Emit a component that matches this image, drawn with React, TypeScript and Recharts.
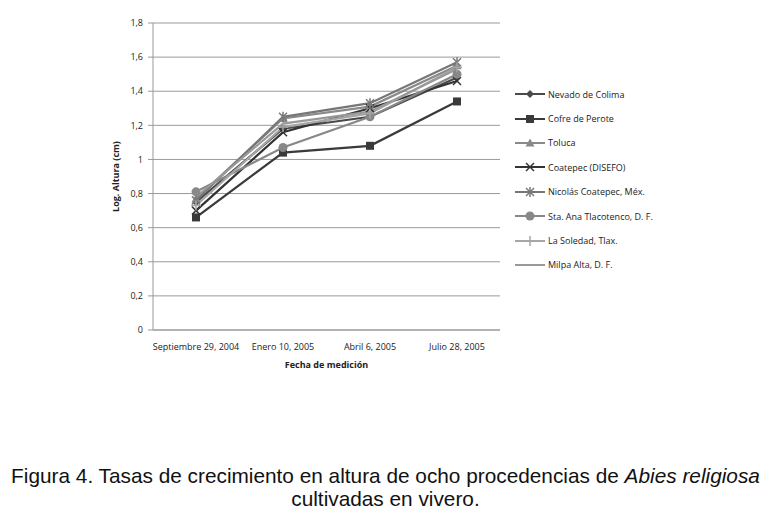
import React from 'react';
import { CartesianGrid, Line, LineChart, XAxis, YAxis } from 'recharts';

const fechas = ['Septiembre 29, 2004', 'Enero 10, 2005', 'Abril 6, 2005', 'Julio 28, 2005'];
const yTicks = [0, 0.2, 0.4, 0.6, 0.8, 1, 1.2, 1.4, 1.6, 1.8];

const nevadoColima = [0.75, 1.18, 1.25, 1.48];
const cofrePerote = [0.66, 1.04, 1.08, 1.34];
const toluca = [0.77, 1.24, 1.31, 1.55];
const coatepecDisefo = [0.7, 1.16, 1.3, 1.46];
const nicolasCoatepec = [0.76, 1.25, 1.33, 1.57];
const staAna = [0.81, 1.07, 1.25, 1.5];
const laSoledad = [0.73, 1.19, 1.27, 1.54];
const milpaAlta = [0.78, 1.21, 1.28, 1.53];

const series = [
  { key: 'Nevado de Colima', values: nevadoColima, color: '#4a4a4a', shape: 'diamond' },
  { key: 'Cofre de Perote', values: cofrePerote, color: '#3a3a3a', shape: 'square' },
  { key: 'Toluca', values: toluca, color: '#8a8a8a', shape: 'triangle' },
  { key: 'Coatepec (DISEFO)', values: coatepecDisefo, color: '#333333', shape: 'x' },
  { key: 'Nicolás Coatepec, Méx.', values: nicolasCoatepec, color: '#777777', shape: 'star' },
  { key: 'Sta. Ana Tlacotenco, D. F.', values: staAna, color: '#888888', shape: 'circle' },
  { key: 'La Soledad, Tlax.', values: laSoledad, color: '#a6a6a6', shape: 'plus' },
  { key: 'Milpa Alta, D. F.', values: milpaAlta, color: '#999999', shape: 'none' },
];

const data = fechas.map((f, i) => {
  const row: any = { fecha: f };
  series.forEach((s) => {
    row[s.key] = s.values[i];
  });
  return row;
});

const tickFont = '"Open Sans", sans-serif';

const Marker = ({ cx, cy, shape, color }: any) => {
  if (cx == null || cy == null) return null;
  switch (shape) {
    case 'diamond':
      return <polygon points={`${cx},${cy - 4} ${cx + 4},${cy} ${cx},${cy + 4} ${cx - 4},${cy}`} fill={color} />;
    case 'square':
      return <rect x={cx - 4} y={cy - 4} width={8} height={8} fill={color} />;
    case 'triangle':
      return <polygon points={`${cx},${cy - 4.5} ${cx + 4.5},${cy + 3.5} ${cx - 4.5},${cy + 3.5}`} fill={color} />;
    case 'x':
      return (
        <g stroke={color} strokeWidth={1.5}>
          <line x1={cx - 4} y1={cy - 4} x2={cx + 4} y2={cy + 4} />
          <line x1={cx - 4} y1={cy + 4} x2={cx + 4} y2={cy - 4} />
        </g>
      );
    case 'star':
      return (
        <g stroke={color} strokeWidth={1.5}>
          <line x1={cx - 4} y1={cy - 4} x2={cx + 4} y2={cy + 4} />
          <line x1={cx - 4} y1={cy + 4} x2={cx + 4} y2={cy - 4} />
          <line x1={cx} y1={cy - 5} x2={cx} y2={cy + 5} />
        </g>
      );
    case 'circle':
      return <circle cx={cx} cy={cy} r={4.5} fill={color} />;
    case 'plus':
      return (
        <g stroke={color} strokeWidth={1.5}>
          <line x1={cx - 5} y1={cy} x2={cx + 5} y2={cy} />
          <line x1={cx} y1={cy - 5} x2={cx} y2={cy + 5} />
        </g>
      );
    default:
      return null;
  }
};

const SideLegend = () => (
  <div style={{ position: 'absolute', left: 506, top: 74, fontFamily: tickFont, fontSize: 9, color: '#222' }}>
    {series.map((s) => (
      <div key={s.key} style={{ display: 'flex', alignItems: 'center', height: 24.4 }}>
        <svg width={32} height={12} style={{ marginRight: 2 }}>
          <line x1={1} y1={6} x2={31} y2={6} stroke={s.color} strokeWidth={2} />
          <Marker cx={16} cy={6} shape={s.shape} color={s.color} />
        </svg>
        <span>{s.key}</span>
      </div>
    ))}
  </div>
);

export default function App() {
  return (
    <div style={{ position: 'relative', width: 763, height: 511 }}>
      <LineChart
        width={760}
        height={380}
        data={data}
        margin={{ top: 15, right: 268, left: 0, bottom: 8 }}
      >
        <CartesianGrid vertical={false} stroke="#9a9a9a" strokeWidth={1} />
        <XAxis
          dataKey="fecha"
          stroke="#999"
          tickLine={false}
          interval={0}
          height={50}
          padding={{ left: 43, right: 43 }}
          tick={{ fontFamily: tickFont, fontSize: 9, fill: '#222' }}
          tickMargin={8}
          label={{
            value: 'Fecha de medición',
            position: 'insideBottom',
            offset: 12,
            style: { fontFamily: tickFont, fontSize: 9, fontWeight: 'bold', fill: '#222' },
          }}
        />
        <YAxis
          width={145}
          domain={[0, 1.8]}
          ticks={yTicks}
          stroke="#999"
          tickSize={5}
          tickMargin={5}
          tickFormatter={(v: number) => String(v).replace('.', ',')}
          tick={{ fontFamily: tickFont, fontSize: 9, fill: '#222' }}
          label={{
            value: 'Log. Altura (cm)',
            angle: -90,
            position: 'insideRight',
            offset: 37,
            style: { fontFamily: tickFont, fontSize: 9, fontWeight: 'bold', fill: '#222', textAnchor: 'middle' },
          }}
        />
        {series.map((s) => (
          <Line
            key={s.key}
            type="linear"
            dataKey={s.key}
            stroke={s.color}
            strokeWidth={2.2}
            isAnimationActive={false}
            dot={(p: any) => <Marker key={`${s.key}-${p.index}`} cx={p.cx} cy={p.cy} shape={s.shape} color={s.color} />}
            activeDot={false}
          />
        ))}
      </LineChart>
      <SideLegend />
      <div
        style={{
          position: 'absolute',
          top: 456,
          left: 0,
          width: 755,
          textAlign: 'center',
          fontFamily: '"Liberation Sans", Arial, sans-serif',
          fontSize: 20.8,
          lineHeight: '23px',
          color: '#111',
        }}
      >
        Figura 4. Tasas de crecimiento en altura de ocho procedencias de <i>Abies religiosa</i>
        <br />
        cultivadas en vivero.
      </div>
    </div>
  );
}
